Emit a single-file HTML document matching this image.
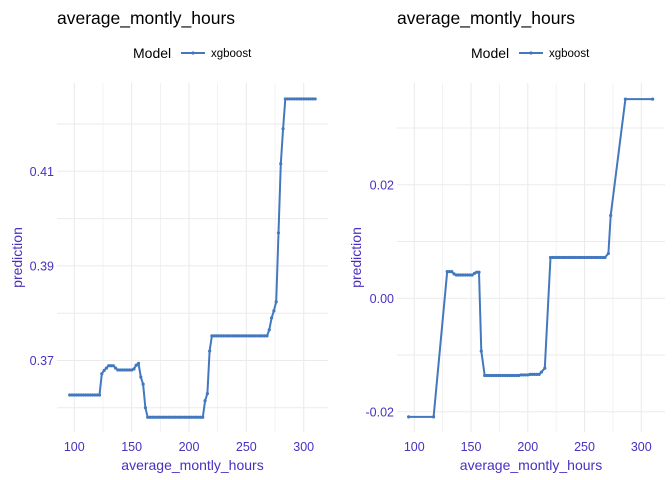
<!DOCTYPE html>
<html><head><meta charset="utf-8">
<style>
html,body{margin:0;padding:0;background:#fff;}
svg{display:block;font-family:"Liberation Sans",sans-serif;}
</style></head>
<body>
<svg id="chart" width="672" height="480" viewBox="0 0 672 480"></svg>
<script>
// Left panel data
const leftX = [96,98,100,102,104,106,108,110,112,114,116,118,120,122,124,126,128,130,132,134,136,138,140,142,144,146,148,150,152,154,156,158,160,162,164,166,168,170,172,174,176,178,180,182,184,186,188,190,192,194,196,198,200,202,204,206,208,210,212,214,216,218,220,222,224,226,228,230,232,234,236,238,240,242,244,246,248,250,252,254,256,258,260,262,264,266,268,270,272,274,276,278,280,282,284,286,288,290,292,294,296,298,300,302,304,306,308,310];
const leftY = [0.3627,0.3627,0.3627,0.3627,0.3627,0.3627,0.3627,0.3627,0.3627,0.3627,0.3627,0.3627,0.3627,0.3627,0.3672,0.3679,0.3684,0.3689,0.3689,0.3689,0.3684,0.3680,0.3680,0.3680,0.3680,0.3680,0.3680,0.3680,0.3682,0.3690,0.3694,0.3665,0.3650,0.3600,0.3580,0.3580,0.3580,0.3580,0.3580,0.3580,0.3580,0.3580,0.3580,0.3580,0.3580,0.3580,0.3580,0.3580,0.3580,0.3580,0.3580,0.3580,0.3580,0.3580,0.3580,0.3580,0.3580,0.3580,0.3580,0.3615,0.3630,0.3720,0.3752,0.3752,0.3752,0.3752,0.3752,0.3752,0.3752,0.3752,0.3752,0.3752,0.3752,0.3752,0.3752,0.3752,0.3752,0.3752,0.3752,0.3752,0.3752,0.3752,0.3752,0.3752,0.3752,0.3752,0.3752,0.3765,0.3790,0.3805,0.3824,0.3970,0.4116,0.4190,0.4253,0.4253,0.4253,0.4253,0.4253,0.4253,0.4253,0.4253,0.4253,0.4253,0.4253,0.4253,0.4253,0.4253];
const leftXTicks = [100,150,200,250,300];
const leftYTicks = [0.37,0.39,0.41];
const leftYTickLabels = ["0.37","0.39","0.41"];
// Right panel data
const rightX = [95,117,129,131,133,135,137,139,141,143,145,147,149,151,153,155,157,159,162,164,166,168,170,172,174,176,178,180,182,184,186,188,190,192,194,196,198,200,202,204,206,208,210,212,215,220,222,224,226,228,230,232,234,236,238,240,242,244,246,248,250,252,254,256,258,260,262,264,266,268,271,273,286,310];
const rightY = [-0.0209,-0.0209,0.0047,0.0047,0.0047,0.0043,0.0041,0.0041,0.0041,0.0041,0.0041,0.0041,0.0041,0.0041,0.0044,0.0046,0.0046,-0.0093,-0.0136,-0.0136,-0.0136,-0.0136,-0.0136,-0.0136,-0.0136,-0.0136,-0.0136,-0.0136,-0.0136,-0.0136,-0.0136,-0.0136,-0.0136,-0.0136,-0.0135,-0.0135,-0.0135,-0.0135,-0.0134,-0.0134,-0.0134,-0.0134,-0.0134,-0.0130,-0.0123,0.0072,0.0072,0.0072,0.0072,0.0072,0.0072,0.0072,0.0072,0.0072,0.0072,0.0072,0.0072,0.0072,0.0072,0.0072,0.0072,0.0072,0.0072,0.0072,0.0072,0.0072,0.0072,0.0072,0.0072,0.0072,0.0079,0.0146,0.0351,0.0351];
const rightXTicks = [100,150,200,250,300];
const rightYTicks = [-0.02,0.00,0.02];
const rightYTickLabels = ["-0.02","0.00","0.02"];

const NS="http://www.w3.org/2000/svg";
const svg=document.getElementById('chart');
function mk(tag,attrs,parent){const e=document.createElementNS(NS,tag);for(const k in attrs)e.setAttribute(k,attrs[k]);(parent||svg).appendChild(e);return e;}
const TXT="#4b2fc0", LINE="#4378bf", GRID="#ebebeb";

function panel(o){
  const g=mk('g',{});
  
  
  const sx=v=>o.x0+(v-o.xv0)*o.xs;
  const sy=v=>o.y0-(v-o.yv0)*o.ys;
  for(let v=100;v<=300;v+=25){
    const gl=mk('line',{x1:sx(v),x2:sx(v),y1:o.top,y2:o.bottom,stroke:GRID,'stroke-width':v%50===0?1.1:0.6},g);
    
    
  }
  const step=(o.yTicks[1]-o.yTicks[0])/2;
  for(let v=o.yTicks[0]-step;v<=o.yTicks[o.yTicks.length-1]+step*2.01;v+=step){
    const y=sy(v); if(y<o.top||y>o.bottom)continue;
    const gl=mk('line',{x1:o.left,x2:o.right,y1:y,y2:y,stroke:GRID,'stroke-width':1},g);
    
    
  }
  o.xTicks.forEach(v=>{
    const t=mk('text',{x:sx(v),y:451,'text-anchor':'middle','font-size':12.5,fill:TXT},g);
    t.textContent=v;
    
    
  });
  o.yTicks.forEach((v,i)=>{
    const t=mk('text',{x:o.left-3,y:sy(v)+4.5,'text-anchor':'end','font-size':12.5,fill:TXT},g);
    t.textContent=o.yLabels[i];
    
    
  });
  const pts=o.xs_.map((v,i)=>sx(v).toFixed(1)+','+sy(o.ys_[i]).toFixed(1)).join(' ');
  const pl=mk('polyline',{points:pts,fill:'none',stroke:LINE,'stroke-width':2,'stroke-linejoin':'round'},g);
  
  
  o.xs_.forEach((v,i)=>{
    const c=mk('circle',{cx:sx(v),cy:sy(o.ys_[i]),r:1.6,fill:LINE},g);
    
    
  });
  const mid=(o.left+o.right)/2;
  const xt=mk('text',{x:mid,y:470,'text-anchor':'middle','font-size':14,fill:TXT},g);
  xt.textContent='average_montly_hours';
  
  
  const yt=mk('text',{x:0,y:0,'text-anchor':'middle','font-size':14,fill:TXT,transform:`translate(${o.ytx},${(o.top+o.bottom)/2}) rotate(-90)`},g);
  yt.textContent='prediction';
  
  
  const ti=mk('text',{x:o.left,y:24,'font-size':17.5,fill:'#000'},g);
  ti.textContent='average_montly_hours';
  
  
  const lg=mk('g',{},g);
  
  
  const lt=mk('text',{x:o.legX,y:58,'font-size':14,fill:'#000'},lg);
  lt.textContent='Model';
  
  
  mk('line',{x1:o.legX+48,x2:o.legX+72,y1:53,y2:53,stroke:LINE,'stroke-width':2},lg);
  mk('circle',{cx:o.legX+60,cy:53,r:1.6,fill:LINE},lg);
  const le=mk('text',{x:o.legX+78,y:57,'font-size':11.5,fill:'#000'},lg);
  le.textContent='xgboost';
  
  
}

panel({name:'left-panel',x0:74.3,xv0:100,xs:1.147,y0:171.3,yv0:0.41,ys:4730,
  top:83,bottom:432,left:57,right:328,xTicks:leftXTicks,yTicks:leftYTicks,yLabels:leftYTickLabels,
  xs_:leftX,ys_:leftY,ytx:22,legX:133});
panel({name:'right-panel',x0:414.3,xv0:100,xs:1.135,y0:298.3,yv0:0,ys:5675,
  top:83,bottom:432,left:397,right:665,xTicks:rightXTicks,yTicks:rightYTicks,yLabels:rightYTickLabels,
  xs_:rightX,ys_:rightY,ytx:361,legX:471});
</script>
</body></html>
